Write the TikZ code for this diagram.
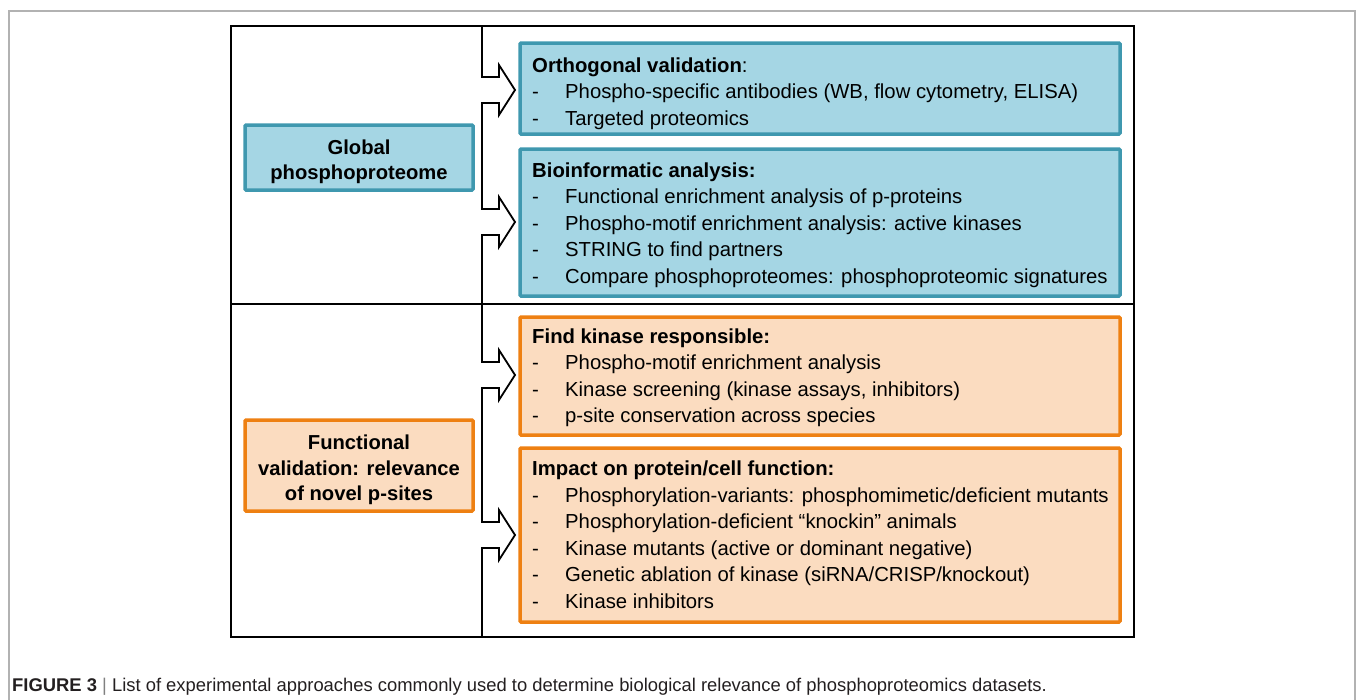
\documentclass[tikz,border=0pt]{standalone}
\usepackage{fontspec}
\setmainfont{Liberation Sans}
\usepackage{array}
\definecolor{bfill}{HTML}{A5D6E4}
\definecolor{bdraw}{HTML}{3F98AF}
\definecolor{ofill}{HTML}{FBDCC0}
\definecolor{odraw}{HTML}{EE8012}
\definecolor{captxt}{HTML}{231F20}
\tikzset{
  bluebox/.style={draw=bdraw, fill=bfill, line width=3.5pt, rounded corners=1pt, inner sep=0pt},
  orangebox/.style={draw=odraw, fill=ofill, line width=3.5pt, rounded corners=1pt, inner sep=0pt},
  headtxt/.style={align=center, inner sep=0pt, font=\bfseries\fontsize{20.2}{25.3}\selectfont},
  listtxt/.style={anchor=base west, inner sep=0pt, font=\fontsize{20.3}{26.5}\selectfont},
  frame/.style={line width=1.8pt, black},
  flow/.style={line width=1.8pt, black, line join=miter}
}
\begin{document}
\begin{tikzpicture}[x=1pt,y=-1pt]
\useasboundingbox (0,0) rectangle (1357,699);
% outer grey frame
\draw[gray!60, line width=1.2pt] (9,720) -- (9,11) -- (1355,11) -- (1355,720);
% black frame and divider
\draw[frame] (231,26) rectangle (1134,637);
\draw[frame] (231,304) -- (1134,304);
% left boxes
\node[bluebox, minimum width=228pt, minimum height=65pt] (glob) at (359,157.5) {};
\node[headtxt] (globT) at (359,162) {Global\\phosphoproteome};
\node[orangebox, minimum width=228pt, minimum height=91pt] (func) at (359,465.5) {};
\node[headtxt] (funcT) at (359,470) {Functional\\validation: relevance\\of novel p-sites};
% right boxes
\node[bluebox, minimum width=600pt, minimum height=91pt] (ortho) at (820,88.5) {};
\node[bluebox, minimum width=600pt, minimum height=147pt] (bio) at (820,222.5) {};
\node[orangebox, minimum width=600pt, minimum height=118pt] (kin) at (820,376) {};
\node[orangebox, minimum width=600pt, minimum height=174pt] (imp) at (820,535) {};
% texts
\node[listtxt] (orthoT) at (532,72) {\begin{tabular}[t]{@{}p{33pt}@{}l@{}}
\multicolumn{2}{@{}l@{}}{\textbf{Orthogonal validation}:}\\
-&Phospho-specific antibodies (WB, flow cytometry, ELISA)\\
-&Targeted proteomics
\end{tabular}};
\node[listtxt] (bioT) at (532,177) {\begin{tabular}[t]{@{}p{33pt}@{}l@{}}
\multicolumn{2}{@{}l@{}}{\textbf{Bioinformatic analysis:}}\\
-&Functional enrichment analysis of p-proteins\\
-&Phospho-motif enrichment analysis: active kinases\\
-&STRING to find partners\\
-&Compare phosphoproteomes: phosphoproteomic signatures
\end{tabular}};
\node[listtxt] (kinT) at (532,343) {\begin{tabular}[t]{@{}p{33pt}@{}l@{}}
\multicolumn{2}{@{}l@{}}{\textbf{Find kinase responsible:}}\\
-&Phospho-motif enrichment analysis\\
-&Kinase screening (kinase assays, inhibitors)\\
-&p-site conservation across species
\end{tabular}};
\node[listtxt] (impT) at (532,475.5) {\begin{tabular}[t]{@{}p{33pt}@{}l@{}}
\multicolumn{2}{@{}l@{}}{\textbf{Impact on protein/cell function:}}\\
-&Phosphorylation-variants: phosphomimetic/deficient mutants\\
-&Phosphorylation-deficient \textquotedblleft knockin\textquotedblright{} animals\\
-&Kinase mutants (active or dominant negative)\\
-&Genetic ablation of kinase (siRNA/CRISP/knockout)\\
-&Kinase inhibitors
\end{tabular}};
% branching connector with open arrow heads
\coordinate (ctop) at (482,26);
\coordinate (cbot) at (482,637);
\draw[flow] (ctop)
  -- (482,77) -- (499,77) -- (499,65) -- (515,90) -- (499,115) -- (499,103) -- (482,103)
  -- (482,209) -- (499,209) -- (499,197) -- (515,222) -- (499,247) -- (499,235) -- (482,235)
  -- (482,362) -- (499,362) -- (499,350) -- (515,375) -- (499,400) -- (499,388) -- (482,388)
  -- (482,522) -- (499,522) -- (499,510) -- (515,535) -- (499,560) -- (499,548) -- (482,548)
  -- (cbot);
% caption
\node[anchor=base west, inner sep=0pt, text=captxt, font=\fontsize{18.4}{22}\selectfont] (cap) at (12,691)
  {\textbf{FIGURE 3} {\color{gray}|} List of experimental approaches commonly used to determine biological relevance of phosphoproteomics datasets.};
\end{tikzpicture}
\end{document}
